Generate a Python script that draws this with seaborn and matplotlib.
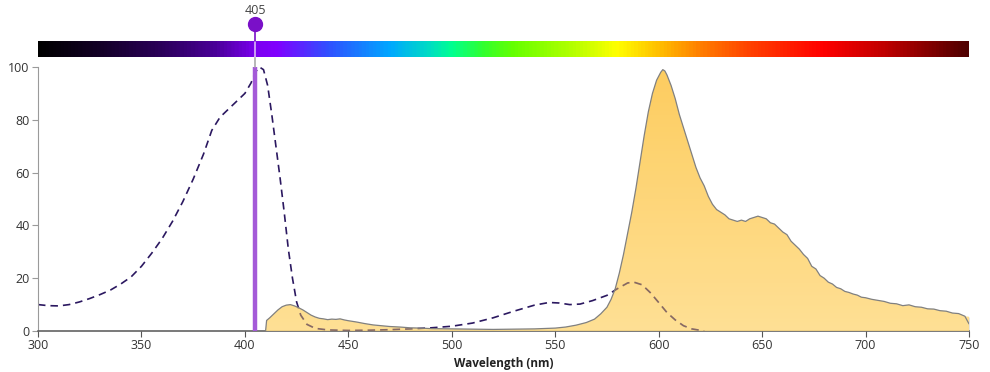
import numpy as np
import pandas as pd
import matplotlib.pyplot as plt
import matplotlib.transforms as mtransforms
from matplotlib.colors import LinearSegmentedColormap
import seaborn as sns

# excitation spectrum (dashed)
ex_wl = [300, 305, 310, 315, 320, 325, 330, 335, 340, 345, 350, 355, 360, 365, 370, 375, 380, 384, 388,
         392, 396, 400, 403, 405, 407, 409, 411, 413, 415, 417, 419, 421, 423, 425, 427, 430, 434, 440,
         450, 460, 470, 480, 490, 500, 510, 520, 530, 540, 547, 552, 557, 562, 568, 575, 580, 585, 588,
         592, 596, 600, 604, 608, 612, 616, 622]
ex_val = [10, 9.6, 9.5, 10, 11, 12.3, 13.8, 15.5, 17.8, 20.5, 24.5, 29.5, 35, 41.5, 49, 57.5, 67, 76, 81,
          84, 87, 90, 94, 98, 100, 99, 93, 82, 70, 58, 45, 31, 20, 11, 6, 2.5, 1, 0.4,
          0.2, 0.3, 0.5, 0.8, 1.2, 1.8, 3, 5, 7.5, 9.8, 10.8, 10.6, 10, 10.2, 11.5, 13.5, 16, 18.2, 18.5,
          17.5, 14.5, 10.8, 7, 4.2, 2, 0.8, 0]

# emission spectrum (filled)
em_wl = [410, 410.5, 412, 414, 416, 418, 420, 422, 424, 426, 428, 430, 432, 434, 436, 438, 440, 442, 444,
         446, 448, 450, 454, 458, 462, 466, 470, 475, 480, 485, 490, 500, 510, 520, 530, 540, 550, 555,
         560, 565, 569, 572, 575, 577, 579, 581, 583, 585, 587, 589, 591, 593, 595, 597, 599, 601, 602,
         603, 604, 606, 608, 610, 612, 614, 616, 618, 620, 622, 624, 626, 628, 630, 632, 634, 636, 638,
         640, 642, 644, 646, 648, 650, 652, 654, 656, 658, 660, 662, 664, 666, 668, 670, 672, 674, 676,
         678, 680, 682, 684, 686, 688, 690, 692, 694, 696, 698, 700, 703, 706, 709, 712, 715, 718, 721,
         724, 727, 730, 733, 736, 739, 742, 745, 748, 750, 750]
em_val = [0, 4, 5, 6.5, 8, 9.2, 9.8, 10, 9.5, 8.8, 8, 7, 6, 5.3, 4.8, 4.6, 4.3, 4.5, 4.4,
          4.6, 4.2, 3.9, 3.4, 2.8, 2.3, 2, 1.7, 1.5, 1.2, 1.1, 0.9, 0.8, 0.7, 0.6, 0.7, 0.8, 1.1, 1.5,
          2.2, 3.2, 4.5, 6.5, 9, 12, 16, 22, 29, 37, 45, 54, 64, 74, 83, 90, 95, 98, 99,
          98.5, 97, 93, 88, 82, 77, 72, 67, 62, 58, 55, 51, 48, 46, 45, 44, 42.5, 42, 41.5,
          42, 41.5, 42.5, 43, 43.5, 43, 42.5, 41, 40.5, 39, 37.5, 36.5, 34, 32.5, 31, 29, 27.5, 24.5, 23.5,
          21, 20, 18.5, 17.8, 16.5, 16, 15, 14.6, 14, 13.6, 12.8, 12.6, 12, 11.6, 11.2, 10.5, 10.3, 9.6, 9.9,
          9.2, 9, 8.4, 8.3, 7.7, 7.5, 6.8, 6.6, 5.6, 5.4, 0]

laser_wl = 405
xticks = [300, 350, 400, 450, 500, 550, 600, 650, 700, 750]
yticks = [0, 20, 40, 60, 80, 100]

# visible spectrum colour stops
spec_wl = [300, 330, 360, 385, 405, 415, 440, 470, 490, 500, 515, 530, 560, 580, 600, 620, 645, 680, 710, 750]
spec_col = ['#000000', '#140028', '#2c005c', '#4a0098', '#7c00f0', '#8000ff', '#3050ff', '#00a8ff',
            '#00e0c0', '#00ff90', '#30ff30', '#66ff00', '#b8ff00', '#ffff00', '#ffc000', '#ff8000',
            '#ff4000', '#ff0000', '#c00000', '#500000']

sns.set_style("white")
plt.rcParams['font.family'] = ['Open Sans', 'DejaVu Sans']

fig = plt.figure(figsize=(9.9, 3.72), dpi=100)
ax = fig.add_axes([38/990, 41/372, 931/990, 264/372])
cax = fig.add_axes([38/990, 1 - 57/372, 931/990, 16/372])

ex = pd.DataFrame({'wl': ex_wl, 'val': ex_val})
em = pd.DataFrame({'wl': em_wl, 'val': em_val})

sns.lineplot(data=ex, x='wl', y='val', ax=ax, color='#2b1860', lw=1.2, zorder=2)
ax.lines[-1].set_dashes([4.5, 3])

# emission fill with vertical gradient
poly = ax.fill_between(em['wl'], em['val'], 0, color='#fdd062', alpha=0.0, zorder=3)
clip = poly.get_paths()[0]
grad = np.linspace(0, 1, 256).reshape(-1, 1)
gcmap = LinearSegmentedColormap.from_list('g', ['#ffdc86', '#fdc649'])
im = ax.imshow(grad, extent=[300, 750, 0, 100], origin='lower', aspect='auto', cmap=gcmap,
               alpha=0.88, zorder=3)
im.set_clip_path(clip, transform=ax.transData)

# excitation seen through the emission fill
sns.lineplot(data=ex, x='wl', y='val', ax=ax, color='#3a2050', lw=1.2, alpha=0.55, zorder=3.5)
ax.lines[-1].set_dashes([4.5, 3])
ax.lines[-1].set_clip_path(clip, transform=ax.transData)

sns.lineplot(data=em, x='wl', y='val', ax=ax, color='#808080', lw=0.9, zorder=4)

# laser line
ax.plot([laser_wl, laser_wl], [0, 100], color='#a45ad8', lw=3.2, zorder=5, solid_capstyle='butt')

ax.set_xlim(300, 750)
ax.set_ylim(0, 100)
ax.set_xticks(xticks)
ax.set_yticks(yticks)
ax.set_xlabel('Wavelength (nm)', fontsize=8.5, fontweight='bold', color='#222222', labelpad=3)
ax.set_ylabel('')
for s in ['top', 'right']:
    ax.spines[s].set_visible(False)
ax.spines['left'].set_color('#9a9a9a')
ax.spines['bottom'].set_color('#555555')
ax.spines['bottom'].set_linewidth(1.1)
ax.tick_params(axis='y', length=4, color='#9a9a9a', labelsize=9, labelcolor='#333333', pad=2)
ax.tick_params(axis='x', length=4, color='#555555', labelsize=9, labelcolor='#333333', pad=2)
ax.tick_params(left=True, bottom=True)

# spectrum bar
scmap = LinearSegmentedColormap.from_list(
    'spec', [((w - 300) / 450, c) for w, c in zip(spec_wl, spec_col)])
cax.imshow(np.linspace(0, 1, 900).reshape(1, -1), extent=[300, 750, 0, 1], aspect='auto', cmap=scmap)
cax.set_xlim(300, 750)
cax.set_axis_off()

# laser marker above the bar
trans = mtransforms.blended_transform_factory(ax.transData, fig.transFigure)
fig.lines.append(plt.Line2D([laser_wl, laser_wl], [1 - 67/372, 1 - 57/372], transform=trans,
                            color='#aaaaaa', lw=1.2))
fig.lines.append(plt.Line2D([laser_wl, laser_wl], [1 - 57/372, 1 - 41/372], transform=trans,
                            color='#d8b8f4', lw=1.2))
fig.lines.append(plt.Line2D([laser_wl, laser_wl], [1 - 41/372, 1 - 24/372], transform=trans,
                            color='#7a10c8', lw=1.2))
fig.lines.append(plt.Line2D([laser_wl], [1 - 24/372], transform=trans, marker='o', markersize=10,
                            color='#7a10c8', lw=0))
fig.text(laser_wl, 1 - 11/372, str(laser_wl), transform=trans, ha='center', va='center', fontsize=9,
         color='#444444')

fig.savefig('out.png', dpi=100)
